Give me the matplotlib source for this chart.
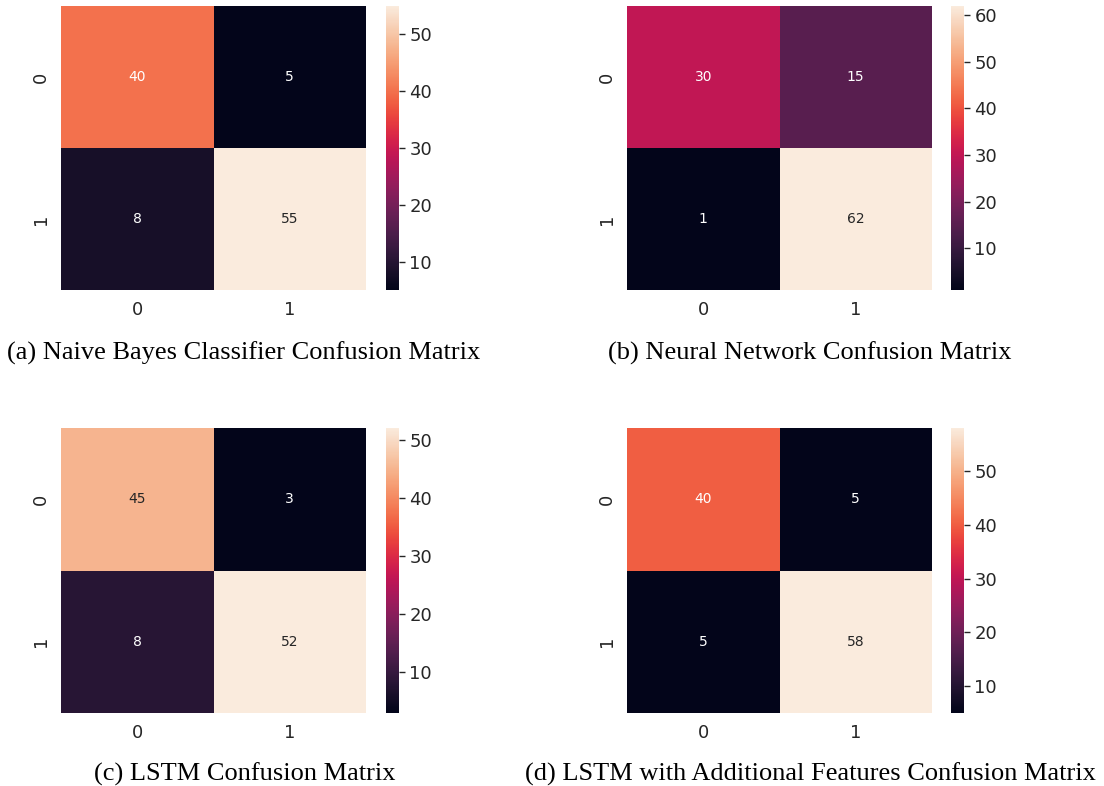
import numpy as np
import seaborn as sns
from matplotlib import pyplot as plt

plt.rcParams['font.family'] = ['DejaVu Sans']

nb = [[40, 5], [8, 55]]
nn = [[30, 15], [1, 62]]
lstm = [[45, 3], [8, 52]]
lstm_feat = [[40, 5], [5, 58]]

captions = ['(a) Naive Bayes Classifier Confusion Matrix',
            '(b) Neural Network Confusion Matrix',
            '(c) LSTM Confusion Matrix',
            '(d) LSTM with Additional Features Confusion Matrix']

W, H = 1104, 786
fig = plt.figure(figsize=(W / 100, H / 100), dpi=100)


def px_axes(x0, y0, x1, y1):
    return fig.add_axes([x0 / W, 1 - y1 / H, (x1 - x0) / W, (y1 - y0) / H])


# pixel boxes: heatmap, colorbar, caption centre
panels = [
    (nb, (61, 6, 366, 290), (386, 399), (244, 353)),
    (nn, (627, 6, 932, 290), (951, 964), (810, 353)),
    (lstm, (61, 428, 366, 713), (386, 399), (245, 774)),
    (lstm_feat, (627, 428, 932, 713), (951, 964), (810, 774)),
]

for (cm, box, cb, cap), text in zip(panels, captions):
    ax = px_axes(*box)
    cax = px_axes(cb[0], box[1], cb[1], box[3])
    sns.heatmap(np.array(cm), annot=True, fmt='d', cmap='rocket', ax=ax, cbar_ax=cax,
                annot_kws={'fontsize': 10})
    ax.tick_params(labelsize=13, length=0, pad=8, labelcolor='#262626')
    cax.tick_params(labelsize=13, length=4, width=1, color='#262626', labelcolor='#262626')
    for s in cax.spines.values():
        s.set_visible(False)
    fig.text(cap[0] / W, 1 - cap[1] / H, text, ha='center', va='center',
             fontsize=19, family='Liberation Serif')

fig.savefig('out.png', dpi=100)
